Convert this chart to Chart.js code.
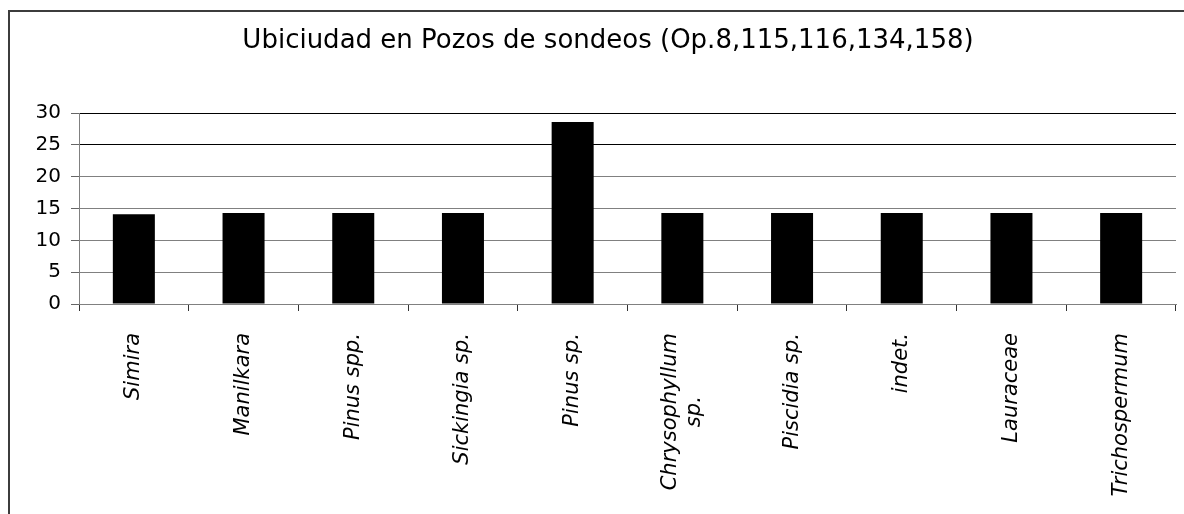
<!DOCTYPE html>
<html>
<head>
<meta charset="utf-8">
<script src="https://cdn.jsdelivr.net/npm/chart.js@4"></script>
<style>
  html, body { margin: 0; padding: 0; background: #fff; overflow: hidden; }
  #wrap { position: relative; width: 1184px; height: 514px; overflow: hidden; }
  #frame { position: absolute; left: 8px; top: 10px; width: 1300px; height: 600px;
           border-left: 2px solid #3c3c3c; border-top: 2px solid #3c3c3c; pointer-events: none; }
  canvas { position: absolute; left: 0; top: 0; }
</style>
</head>
<body>
<div id="wrap">
  <canvas id="c" width="1184" height="514"></canvas>
  <div id="frame"></div>
</div>
<script>
const titleText = 'Ubiciudad en Pozos de sondeos (Op.8,115,116,134,158)';
const categories = ['Simira', 'Manilkara', 'Pinus spp.', 'Sickingia sp.', 'Pinus sp.',
                    ['Chrysophyllum', 'sp.'], 'Piscidia sp.', 'indet.', 'Lauraceae', 'Trichospermum'];
const values = [14.1, 14.3, 14.3, 14.3, 28.6, 14.3, 14.3, 14.3, 14.3, 14.3];
const yTicks = [0, 5, 10, 15, 20, 25, 30];

const FONT = 'DejaVu Sans, Verdana, sans-serif';

const layoutFix = {
  id: 'layoutFix',
  afterLayout(chart) {
    const tb = chart.titleBlock;
    if (tb) { const cx = 608; tb.left = cx - 480; tb.right = cx + 480; }
  },
  beforeDraw(chart) {
    const sx = chart.scales.x;
    const items = sx.getLabelItems();
    items.forEach(it => {
      if (Array.isArray(it.label)) {
        const ctx = chart.ctx;
        ctx.save();
        ctx.font = it.font.string;
        const w = Math.max(...it.label.map(l => ctx.measureText(l).width));
        ctx.restore();
        if (it.options.textAlign !== 'center') {
          it.options.textAlign = 'center';
          it.options.translation[1] += w / 2;
          it.options.translation[0] -= (it.label.length - 1) * it.font.lineHeight / 2;
        }
      }
    });
  }
};

new Chart(document.getElementById('c'), {
  type: 'bar',
  data: {
    labels: categories,
    datasets: [{
      data: values,
      backgroundColor: '#000',
      borderColor: '#000',
      borderWidth: 0,
      categoryPercentage: 1,
      barPercentage: 0.383
    }]
  },
  plugins: [layoutFix],
  options: {
    responsive: false,
    animation: false,
    layout: { padding: { left: 0, right: 8, top: 0, bottom: 0 } },
    plugins: {
      legend: { display: false },
      tooltip: { enabled: false },
      title: {
        display: true,
        text: titleText,
        color: '#000',
        font: { family: FONT, size: 26, weight: 'normal', lineHeight: 1.2 },
        padding: { top: 26, bottom: 55.8 }
      }
    },
    scales: {
      x: {
        offset: true,
        grid: { display: true, offset: true, drawOnChartArea: false, drawTicks: true,
                tickLength: 7, color: '#333', tickColor: '#333' },
        border: { display: true, color: '#808080', width: 1 },
        ticks: {
          autoSkip: false, minRotation: 90, maxRotation: 90, padding: 22,
          color: '#000',
          font: { family: FONT, size: 21, style: 'italic', lineHeight: 1.15 }
        },
        afterFit(scale) { scale.height = 210; }
      },
      y: {
        min: 0, max: 30,
        afterBuildTicks(scale) { scale.ticks = yTicks.map(v => ({ value: v })); },
        grid: {
          drawTicks: true, tickLength: 8,
          color: ctx => (ctx.tick && ctx.tick.value >= 25) ? '#000' : '#808080',
          tickColor: '#666'
        },
        border: { display: true, color: '#808080', width: 1 },
        ticks: { color: '#000', padding: 10, font: { family: FONT, size: 20 } },
        afterFit(scale) { scale.width = 79; }
      }
    }
  }
});
</script>
</body>
</html>
